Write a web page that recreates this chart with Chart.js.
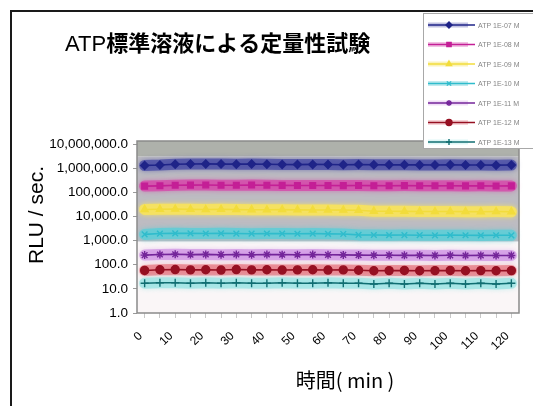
<!DOCTYPE html>
<html>
<head>
<meta charset="utf-8">
<script src="https://cdn.jsdelivr.net/npm/chart.js@4.4.0/dist/chart.umd.min.js"></script>
<style>
  html, body { margin: 0; padding: 0; background: #fff; overflow: hidden; }
  #wrap { position: relative; width: 533px; height: 406px; }
  #c { position: absolute; left: 0; top: 0; }
  #frame { position: absolute; left: 10px; top: 10px; width: 620px; height: 520px;
           border-left: 2px solid #1a1a1a; border-top: 2px solid #1a1a1a; pointer-events: none; }
</style>
</head>
<body>
<div id="wrap">
  <canvas id="c" width="533" height="406"></canvas>
  <div id="frame"></div>
</div>
<script>
// Elapsed time (min)
const categories = [0, 5, 10, 15, 20, 25, 30, 35, 40, 45, 50, 55, 60, 65, 70, 75, 80, 85, 90, 95, 100, 105, 110, 115, 120];
// x tick labels shown (every 10 min)
const xTickLabels = ['0', '10', '20', '30', '40', '50', '60', '70', '80', '90', '100', '110', '120'];
// y tick values (log decades)
const yTickValues = [1, 10, 100, 1000, 10000, 100000, 1000000, 10000000];

const seriesNames = ['ATP 1E-07 M', 'ATP 1E-08 M', 'ATP 1E-09 M', 'ATP 1E-10 M', 'ATP 1E-11 M', 'ATP 1E-12 M', 'ATP 1E-13 M'];

// RLU / sec. per standard
const rlu1 = [1300000, 1350000, 1450000, 1480000, 1500000, 1470000, 1460000, 1490000, 1450000, 1420000, 1400000, 1430000, 1410000, 1390000, 1400000, 1380000, 1370000, 1390000, 1360000, 1350000, 1370000, 1340000, 1350000, 1330000, 1340000];
const rlu2 = [180000, 185000, 195000, 198000, 200000, 197000, 195000, 199000, 196000, 193000, 190000, 192000, 191000, 189000, 190000, 188000, 187000, 189000, 186000, 185000, 187000, 184000, 185000, 183000, 184000];
const rlu3 = [19500, 19800, 20000, 19600, 19400, 19700, 19200, 19000, 18800, 19100, 18600, 18400, 18500, 18200, 17900, 16500, 16300, 16200, 16000, 15900, 16100, 15800, 15700, 15900, 15600];
const rlu4 = [1800, 1950, 2000, 1980, 1960, 1990, 1950, 1930, 1970, 1940, 1920, 1950, 1900, 1880, 1720, 1700, 1680, 1690, 1670, 1650, 1680, 1660, 1640, 1660, 1650];
const rlu5 = [250, 265, 270, 262, 268, 260, 266, 258, 264, 261, 259, 263, 257, 255, 250, 246, 248, 244, 247, 242, 245, 241, 243, 240, 242];
const rlu6 = [58, 62, 63, 61, 62, 60, 63, 61, 62, 60, 61, 62, 60, 61, 59, 56, 57, 58, 56, 57, 58, 56, 57, 56, 57];
const rlu7 = [17, 18, 18, 17, 18, 17, 18, 17, 17, 18, 17, 17, 18, 17, 17, 16, 17, 16, 17, 16, 17, 16, 17, 16, 17];

const titleLatin = 'ATP';
const titleJa = '標準溶液による定量性試験';
const yTitle = 'RLU / sec.';
const xTitle = '時間( min )';

const LATIN = '"Liberation Sans", Arial, sans-serif';
const CJK = '"Noto Sans CJK JP", "Liberation Sans", sans-serif';

const styles = [
  { color: '#1f2488', fill: '#1f2488', point: 'rectRot',  halo: 'rgba(70,74,165,0.75)' },
  { color: '#c41f96', fill: '#c41f96', point: 'rect',     halo: 'rgba(214,70,170,0.75)' },
  { color: '#f2dc3c', fill: '#f2dc3c', point: 'triangle', halo: 'rgba(246,226,96,0.95)' },
  { color: '#2fbccc', fill: '#2fbccc', point: 'crossRot', halo: 'rgba(96,204,214,0.85)' },
  { color: '#74259a', fill: '#74259a', point: 'star',     halo: 'rgba(200,130,225,0.6)' },
  { color: '#961022', fill: '#961022', point: 'circle',   halo: 'rgba(226,96,110,0.6)' },
  { color: '#106e72', fill: '#106e72', point: 'cross',    halo: 'rgba(150,226,226,0.7)' }
];
const seriesData = [rlu1, rlu2, rlu3, rlu4, rlu5, rlu6, rlu7];

const datasets = seriesData.map((d, i) => ({
  label: seriesNames[i],
  data: d,
  borderColor: styles[i].color,
  backgroundColor: styles[i].fill,
  borderWidth: 1.6,
  pointStyle: styles[i].point,
  pointRadius: 4,
  pointBorderColor: styles[i].color,
  pointBackgroundColor: styles[i].fill,
  pointBorderWidth: 1.4,
  tension: 0
}));

// Plot area fill and border
const plotBg = {
  id: 'plotBg',
  beforeDraw(chart) {
    const { ctx, chartArea: a, scales } = chart;
    const split = scales.y.getPixelForValue(900);
    const mid = scales.y.getPixelForValue(3000000);
    ctx.save();
    ctx.fillStyle = '#aeb1ab';
    ctx.fillRect(a.left, a.top - 3, a.right - a.left, mid - a.top + 3);
    ctx.fillStyle = '#bdbcc2';
    ctx.fillRect(a.left, mid, a.right - a.left, split - mid);
    ctx.fillStyle = '#faf6f7';
    ctx.fillRect(a.left, split, a.right - a.left, a.bottom - split);
    ctx.restore();
  },
  afterDraw(chart) {
    const { ctx, chartArea: a } = chart;
    ctx.save();
    ctx.strokeStyle = '#8a8a8a';
    ctx.lineWidth = 1.5;
    ctx.strokeRect(a.left, a.top - 3, a.right - a.left, a.bottom - a.top + 3);
    ctx.restore();
  }
};

// Soft colored band under each series line
const halo = {
  id: 'halo',
  beforeDatasetsDraw(chart) {
    const ctx = chart.ctx;
    ctx.save();
    ctx.lineCap = 'round';
    ctx.lineJoin = 'round';
    chart.data.datasets.forEach((ds, i) => {
      const pts = chart.getDatasetMeta(i).data;
      ctx.strokeStyle = styles[i].halo;
      ctx.shadowColor = styles[i].halo;
      ctx.shadowBlur = 5;
      ctx.lineWidth = 11;
      ctx.beginPath();
      pts.forEach((p, k) => (k ? ctx.lineTo(p.x, p.y) : ctx.moveTo(p.x, p.y)));
      ctx.stroke();
    });
    ctx.restore();
  }
};

// Title, axis titles and legend box
const texts = {
  id: 'texts',
  afterDraw(chart) {
    const ctx = chart.ctx;
    ctx.save();
    ctx.fillStyle = '#000';
    ctx.textBaseline = 'alphabetic';
    ctx.textAlign = 'left';
    ctx.font = '22px ' + LATIN;
    ctx.fillText(titleLatin, 65, 51);
    const w = ctx.measureText(titleLatin).width;
    ctx.font = 'bold 22px ' + CJK;
    ctx.fillText(titleJa, 65 + w, 51);

    ctx.font = '21px ' + LATIN;
    ctx.save();
    ctx.translate(43, 215);
    ctx.rotate(-Math.PI / 2);
    ctx.textAlign = 'center';
    ctx.fillText(yTitle, 0, 0);
    ctx.restore();

    ctx.font = '20px ' + CJK;
    ctx.textAlign = 'center';
    ctx.fillText(xTitle, 345, 388);

    // legend
    const lx = 423, ly = 13, lw = 130, lh = 135;
    ctx.fillStyle = '#ffffff';
    ctx.fillRect(lx, ly, lw, lh);
    ctx.strokeStyle = '#a8a8a8';
    ctx.lineWidth = 1;
    ctx.strokeRect(lx + 0.5, ly + 0.5, lw, lh);
    chart.data.datasets.forEach((ds, i) => {
      const y = 25 + i * 19.5;
      ctx.save();
      ctx.strokeStyle = styles[i].halo;
      ctx.globalAlpha = 0.45;
      ctx.lineWidth = 5;
      ctx.beginPath(); ctx.moveTo(428, y); ctx.lineTo(468, y); ctx.stroke();
      ctx.globalAlpha = 1;
      ctx.strokeStyle = styles[i].color;
      ctx.fillStyle = styles[i].color;
      ctx.lineWidth = 1.4;
      ctx.beginPath(); ctx.moveTo(428, y); ctx.lineTo(475, y); ctx.stroke();
      Chart.helpers.drawPoint(ctx, { pointStyle: styles[i].point, radius: 3, borderWidth: 1.2 }, 449, y);
      ctx.restore();
      ctx.fillStyle = '#858585';
      ctx.font = '7px ' + LATIN;
      ctx.textAlign = 'left';
      ctx.textBaseline = 'middle';
      ctx.fillText(ds.label, 478, y + 1);
    });
    ctx.restore();
  }
};

new Chart(document.getElementById('c'), {
  type: 'line',
  data: { labels: categories, datasets },
  options: {
    responsive: false,
    animation: false,
    devicePixelRatio: 1,
    layout: { padding: { top: 144, right: 14, left: 0, bottom: 0 } },
    plugins: {
      legend: { display: false },
      title: { display: false },
      tooltip: { enabled: false }
    },
    scales: {
      x: {
        type: 'category',
        offset: true,
        grid: { display: true, drawOnChartArea: false, drawTicks: true, tickLength: 5, color: '#c8c8c8' },
        border: { display: false },
        ticks: {
          autoSkip: false,
          minRotation: 45,
          maxRotation: 45,
          padding: 11,
          labelOffset: -4,
          color: '#000',
          font: { family: LATIN, size: 12 },
          callback: (v, i) => (categories[i] % 10 === 0 ? xTickLabels[categories[i] / 10] : '')
        },
        afterFit: (s) => { s.height = 406 - 313; }
      },
      y: {
        type: 'logarithmic',
        min: 1,
        max: 10000000,
        afterBuildTicks: (s) => { s.ticks = yTickValues.map(v => ({ value: v })); },
        grid: { display: true, drawOnChartArea: false, drawTicks: true, tickLength: 4, color: '#9a9a9a' },
        border: { display: false },
        ticks: {
          padding: 5,
          color: '#000',
          font: { family: LATIN, size: 13.5 },
          callback: (v) => Number(v).toLocaleString('en-US', { minimumFractionDigits: 1, maximumFractionDigits: 1 })
        },
        afterFit: (s) => { s.width = 137; }
      }
    }
  },
  plugins: [plotBg, halo, texts]
});
</script>
</body>
</html>
